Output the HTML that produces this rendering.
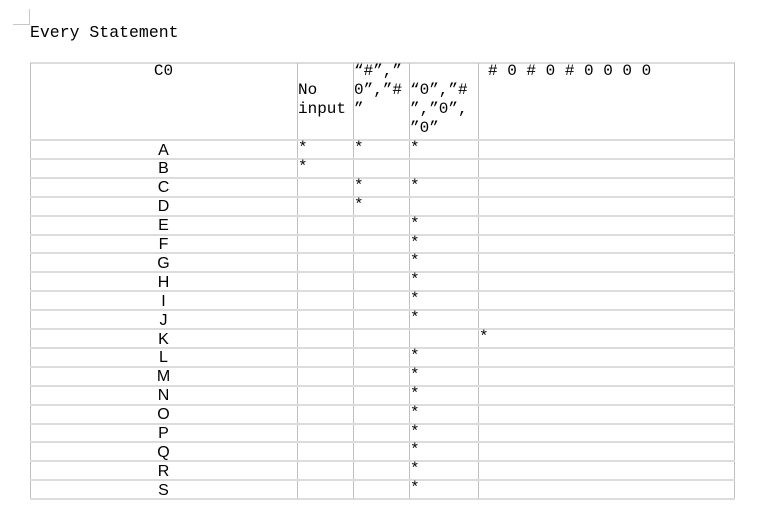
<!DOCTYPE html>
<html><head><style>
body{margin:0;width:782px;height:510px;background:#fff;position:relative;overflow:hidden;font-family:"Liberation Mono",monospace;color:#000}
.a{position:absolute;white-space:pre}
.h{position:absolute;height:2px;background:#dcdcdc;left:30px;width:705px}
.v{position:absolute;width:1px;background:#c0c0c0;top:63px;height:436px}
.t{position:absolute;font-size:16px;line-height:19px;white-space:pre}
.l{position:absolute;left:30px;width:267px;text-align:center;font-family:"Liberation Sans",sans-serif;font-size:16px;line-height:19px}
.s{position:absolute;font-size:16px;line-height:19px}
</style></head><body>
<div class="a" style="left:13px;top:24px;width:17px;height:1px;background:#c8c8c8"></div>
<div class="a" style="left:29px;top:9px;width:1px;height:16px;background:#c8c8c8"></div>
<div class="a" style="left:30px;top:23px;font-size:16.5px;line-height:20px">Every Statement</div>
<div class="h" style="top:62px"></div>
<div class="v" style="left:30px"></div>
<div class="v" style="left:297px"></div>
<div class="v" style="left:353px"></div>
<div class="v" style="left:409px"></div>
<div class="v" style="left:478px"></div>
<div class="v" style="left:734px"></div>
<div class="t" style="left:30px;width:267px;text-align:center;top:62px">C0</div>
<div class="t" style="left:298px;top:81px">No
input</div>
<div class="t" style="left:354px;top:62px">“#”,”
0”,”#
”</div>
<div class="t" style="left:410px;top:81px">“0”,”#
”,”0”,
”0”</div>
<div class="t" style="left:488px;top:62px">#&nbsp;0&nbsp;#&nbsp;0&nbsp;#&nbsp;0&nbsp;0&nbsp;0&nbsp;0</div>
<div id="rows"></div>
<script>
var L="ABCDEFGHIJKLMNOPQRS".split("");
var S={A:[298,354,410],B:[298],C:[354,410],D:[354],K:[479]};
var h="";
for(var i=0;i<=19;i++){var y=139+i*18.9;h+='<div class="h" style="top:'+y.toFixed(1)+'px"></div>';}
L.forEach(function(c,i){var y=140+i*18.9;
h+='<div class="l" style="top:'+(y+0.5).toFixed(1)+'px">'+c+'</div>';
var st=S[c]||[410];
st.forEach(function(x){h+='<div class="s" style="left:'+x+'px;top:'+(y-1).toFixed(1)+'px">*</div>';});
});
document.getElementById("rows").innerHTML=h;
</script>
</body></html>
